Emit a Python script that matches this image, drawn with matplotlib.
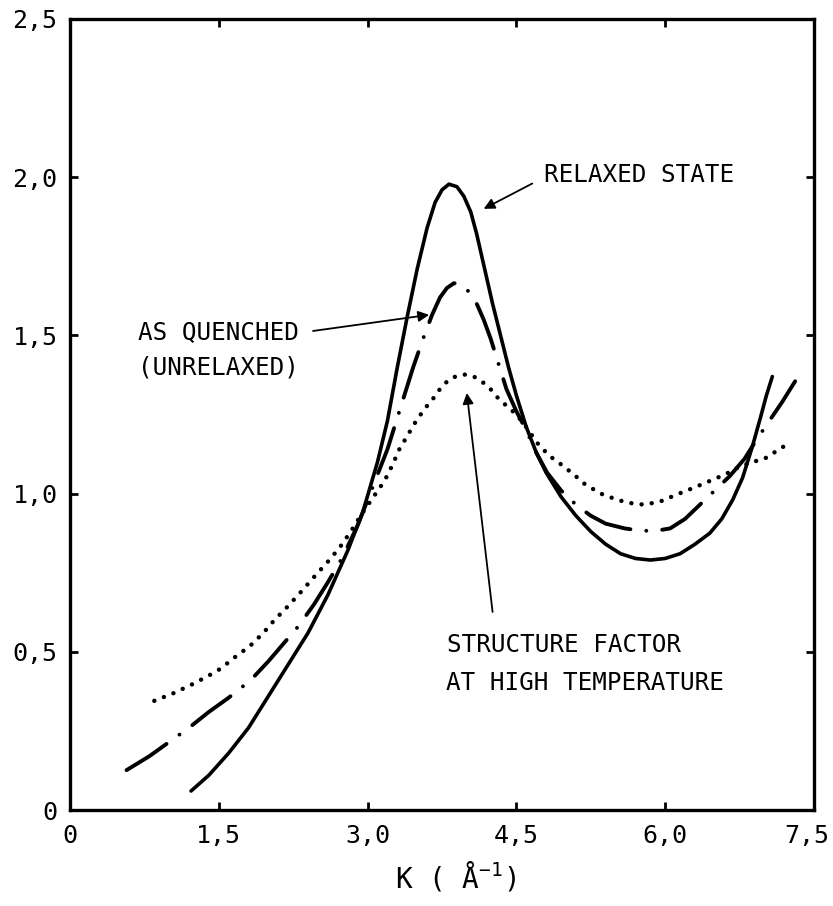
"""
plot.py
=======
Structure factor S(K) of the glass: relaxed, as quenched and high temperature.
"""

import matplotlib
matplotlib.use('Agg')           # headless / non-interactive backend
import matplotlib.pyplot as plt
from matplotlib.transforms import ScaledTranslation

plt.rcParams['font.family'] = ['DejaVu Sans Mono', 'DejaVu Sans']
plt.rcParams['mathtext.default'] = 'regular'


# ---------------------------------------------------------------------------
# Data
# ---------------------------------------------------------------------------

relaxed_k = [1.22, 1.40, 1.60, 1.80, 2.00, 2.20, 2.40, 2.60, 2.80, 2.95,
             3.10, 3.20, 3.30, 3.40, 3.50, 3.60, 3.68, 3.75, 3.82, 3.90,
             3.97, 4.04, 4.10, 4.18, 4.26, 4.34, 4.42, 4.50, 4.60, 4.70,
             4.80, 4.95, 5.10, 5.25, 5.40, 5.55, 5.70, 5.85, 6.00, 6.15,
             6.30, 6.45, 6.57, 6.68, 6.78, 6.88, 6.96, 7.02, 7.08]
relaxed_s = [0.06, 0.11, 0.18, 0.26, 0.36, 0.46, 0.56, 0.68, 0.82, 0.94,
             1.10, 1.23, 1.40, 1.56, 1.71, 1.84, 1.92, 1.96, 1.978, 1.97,
             1.94, 1.89, 1.82, 1.71, 1.60, 1.50, 1.40, 1.31, 1.21, 1.13,
             1.066, 0.99, 0.93, 0.88, 0.84, 0.81, 0.795, 0.79, 0.795, 0.81,
             0.84, 0.875, 0.92, 0.98, 1.05, 1.15, 1.24, 1.31, 1.37]

quenched_k = [0.57, 0.80, 1.00, 1.20, 1.40, 1.60, 1.82, 2.00, 2.15, 2.30,
              2.46, 2.60, 2.75, 2.90, 3.05, 3.20, 3.33, 3.46, 3.56, 3.65,
              3.73, 3.80, 3.87, 3.95, 4.03, 4.10, 4.17, 4.24, 4.32, 4.40,
              4.50, 4.60, 4.70, 4.81, 4.95, 5.10, 5.25, 5.40, 5.59, 5.75,
              5.90, 6.05, 6.20, 6.35, 6.50, 6.65, 6.80, 6.92, 7.05, 7.18,
              7.31]
quenched_s = [0.126, 0.17, 0.215, 0.26, 0.31, 0.355, 0.41, 0.47, 0.525, 0.58,
              0.65, 0.72, 0.80, 0.90, 1.02, 1.14, 1.27, 1.40, 1.49, 1.565,
              1.62, 1.65, 1.665, 1.66, 1.635, 1.60, 1.55, 1.49, 1.41, 1.33,
              1.26, 1.20, 1.13, 1.066, 1.01, 0.965, 0.93, 0.905, 0.89, 0.883,
              0.882, 0.89, 0.92, 0.965, 1.01, 1.055, 1.11, 1.17, 1.23, 1.29,
              1.355]

hot_k = [0.85, 1.05, 1.25, 1.40, 1.52, 1.65, 1.82, 1.95, 2.06, 2.20,
         2.33, 2.47, 2.60, 2.72, 2.83, 2.95, 3.06, 3.17, 3.25, 3.32,
         3.49, 3.58, 3.66, 3.74, 3.82, 3.90, 3.98, 4.07, 4.15, 4.24,
         4.32, 4.41, 4.50, 4.60, 4.71, 4.83, 4.96, 5.08, 5.19, 5.35,
         5.52, 5.65, 5.79, 5.95, 6.14, 6.30, 6.45, 6.60, 6.75, 6.88,
         7.00, 7.10, 7.20]
hot_s = [0.345, 0.37, 0.40, 0.425, 0.447, 0.48, 0.52, 0.56, 0.60, 0.645,
         0.69, 0.74, 0.785, 0.83, 0.88, 0.94, 0.99, 1.04, 1.09, 1.14,
         1.23, 1.27, 1.30, 1.335, 1.36, 1.372, 1.376, 1.37, 1.355, 1.33,
         1.30, 1.275, 1.25, 1.21, 1.16, 1.12, 1.09, 1.06, 1.03, 1.00,
         0.98, 0.97, 0.965, 0.975, 1.00, 1.02, 1.04, 1.06, 1.085, 1.10,
         1.11, 1.13, 1.15]

x_ticks = [0, 1.5, 3.0, 4.5, 6.0, 7.5]
x_tick_labels = ['0', '1,5', '3,0', '4,5', '6,0', '7,5']
y_ticks = [0, 0.5, 1.0, 1.5, 2.0, 2.5]
y_tick_labels = ['0', '0,5', '1,0', '1,5', '2,0', '2,5']


# ---------------------------------------------------------------------------
# Figure
# ---------------------------------------------------------------------------

fig = plt.figure(figsize=(8.33, 9.06), dpi=100)
ax = fig.add_axes([70 / 833, 1 - 810 / 906, 744 / 833, 791 / 906])

ax.plot(relaxed_k, relaxed_s, color='black', lw=2.6,
        solid_capstyle='round', solid_joinstyle='round')
ax.plot(quenched_k, quenched_s, color='black', lw=2.8,
        linestyle=(0, (12.3, 4.1, 0.01, 4.1)), dash_capstyle='round')
ax.plot(hot_k, hot_s, color='black', lw=3.2,
        linestyle=(0, (0.01, 2.3)), dash_capstyle='round')

ax.set_xlim(0, 7.5)
ax.set_ylim(0, 2.5)
ax.set_xticks(x_ticks)
ax.set_xticklabels(x_tick_labels)
ax.set_yticks(y_ticks)
ax.set_yticklabels(y_tick_labels)
ax.tick_params(direction='in', length=6, width=2, top=True, right=True,
               labelsize=18)
ax.tick_params(axis='x', pad=10)
ax.tick_params(axis='y', pad=9)
for spine in ax.spines.values():
    spine.set_linewidth(2.4)

# keep the last x label inside the canvas
last = ax.get_xticklabels()[-1]
last.set_transform(last.get_transform()
                   + ScaledTranslation(-7 / 100, 0, fig.dpi_scale_trans))

ax.set_xlabel('K ( Å$^{-1}$)', fontsize=20, va='top')
ax.xaxis.set_label_coords(0.518, -0.062)

# --- annotations ---
arrow = dict(arrowstyle='-|>', color='black', lw=1.3, mutation_scale=16,
             shrinkA=0, shrinkB=0)
ax.text(4.78, 2.007, 'RELAXED STATE', fontsize=17.5, va='center')
ax.annotate('', xy=(4.17, 1.90), xytext=(4.66, 1.98), arrowprops=arrow)

ax.text(0.69, 1.51, 'AS QUENCHED', fontsize=17.5, va='center')
ax.text(0.69, 1.40, '(UNRELAXED)', fontsize=17.5, va='center')
ax.annotate('', xy=(3.62, 1.565), xytext=(2.45, 1.514), arrowprops=arrow)

ax.text(3.80, 0.52, 'STRUCTURE FACTOR', fontsize=17.5, va='center')
ax.text(3.79, 0.40, 'AT HIGH TEMPERATURE', fontsize=17.5, va='center')
ax.annotate('', xy=(4.0, 1.318), xytext=(4.26, 0.626), arrowprops=arrow)

fig.savefig('out.png', dpi=100)
plt.close(fig)
